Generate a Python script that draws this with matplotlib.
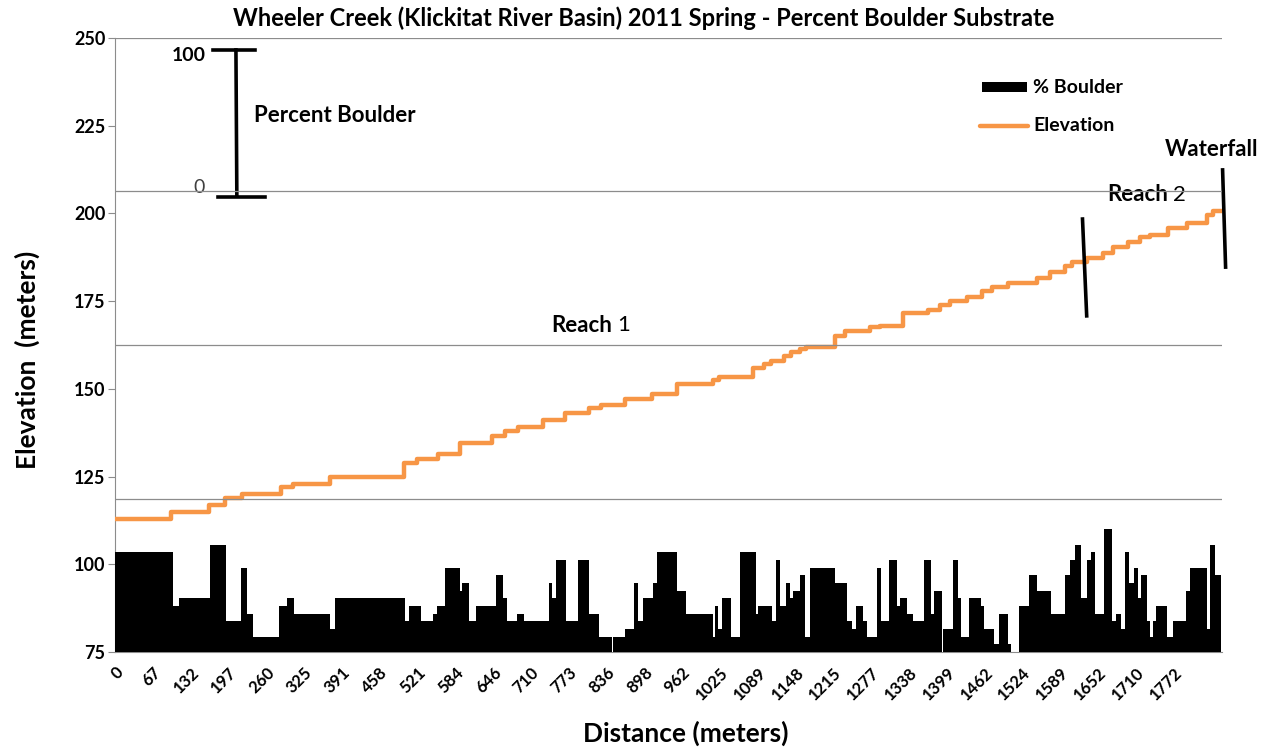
import numpy as np
import matplotlib
matplotlib.use("Agg")
import matplotlib.pyplot as plt
from matplotlib.transforms import offset_copy

plt.rcParams['font.family'] = ['Lato', 'DejaVu Sans']

# ---------------- data ----------------
tick_labels = ["0", "67", "132", "197", "260", "325", "391", "458", "521", "584",
               "646", "710", "773", "836", "898", "962", "1025", "1089", "1148",
               "1215", "1277", "1338", "1399", "1462", "1524", "1589", "1652",
               "1710", "1772"]

# % boulder: start distance of each step and the percent value
boulder_start = [0, 97, 107, 159, 185, 210, 220, 230, 274, 287, 299, 359, 367,
                 484, 491, 511, 531, 538, 551, 576, 580, 591, 603, 636, 648, 655,
                 671, 683, 725, 730, 736, 753, 773, 792, 808, 830, 832, 852, 867,
                 873, 882, 898, 905, 939, 954, 999, 1002, 1007, 1014, 1029, 1044,
                 1070, 1074, 1097, 1104, 1111, 1121, 1127, 1132, 1144, 1152, 1161,
                 1202, 1222, 1231, 1237, 1249, 1256, 1273, 1279, 1293, 1306, 1311,
                 1323, 1333, 1351, 1363, 1368, 1381, 1383, 1399, 1408, 1413, 1426,
                 1446, 1451, 1468, 1476, 1491, 1496, 1510, 1526, 1540, 1563, 1587,
                 1595, 1603, 1613, 1623, 1630, 1637, 1652, 1665, 1672, 1680, 1687,
                 1693, 1702, 1708, 1713, 1723, 1728, 1733, 1738, 1757, 1767, 1789,
                 1795, 1824, 1829, 1837]
boulder_pct = [65, 30, 35, 70, 20, 55, 25, 10, 30, 35, 25, 15, 35,
               20, 30, 20, 25, 30, 55, 40, 45, 20, 30, 50, 35, 20,
               25, 20, 45, 35, 60, 20, 60, 25, 10, 0, 10, 15, 45,
               20, 35, 45, 65, 40, 25, 10, 30, 15, 35, 10, 65,
               25, 30, 20, 60, 30, 45, 35, 40, 50, 10, 55,
               45, 20, 15, 30, 20, 10, 55, 20, 60, 30, 35,
               25, 20, 60, 25, 40, 0, 15, 60, 35, 10, 35,
               30, 15, 5, 25, 5, 0, 30, 50, 40, 25, 50,
               60, 70, 35, 60, 65, 25, 80, 20, 25, 15, 65,
               45, 55, 35, 50, 20, 10, 20, 30, 10, 20, 40,
               55, 15, 70, 50]
boulder_end = 1847

# elevation: start distance of each step and elevation (m)
elev_start = [0, 94, 157, 184, 212, 277, 297, 359, 483, 504, 539, 576, 630, 651,
              673, 715, 752, 792, 812, 852, 897, 939, 999, 1009, 1065, 1084, 1096,
              1117, 1129, 1144, 1154, 1202, 1219, 1261, 1278, 1316, 1358, 1378,
              1394, 1423, 1448, 1465, 1491, 1540, 1561, 1587, 1598, 1623, 1650,
              1667, 1692, 1712, 1728, 1758, 1790, 1824, 1834]
elev_m = [113, 115, 117, 119, 120, 122, 123, 125, 129, 130, 131.5, 134.5, 136.5,
          138, 139, 141, 143, 144.5, 145.5, 147, 148.5, 151.5, 152.5, 153.5, 156,
          157, 158, 159.5, 160.5, 161.5, 162, 165, 166.5, 167.5, 168, 171.5, 172.5,
          174, 175, 176.3, 178, 179, 180.3, 181.5, 183.4, 185, 186.2, 187.2, 188.6,
          190.5, 191.9, 193.2, 193.9, 195.8, 197.4, 199.6, 200.8]
elev_end = 1845

series_names = ["% Boulder", "Elevation"]

ORANGE = "#F79646"
GRID = "#8c8c8c"
ANN = 16

# ---------------- figure ----------------
fig = plt.figure(figsize=(12.69, 7.51), dpi=100)
ax = fig.add_axes([115/1269, 1-652/751, 1107/1269, 614/751])
ax.set_xlim(0, 1849)
ax.set_ylim(75, 250)

ax2 = ax.twinx()
ax2.set_ylim(0, 400)
ax2.set_yticks([100, 200, 300, 400])
ax2.yaxis.grid(True, color=GRID, lw=0.9)
ax2.tick_params(axis='y', length=0, labelright=False)
for s in ax2.spines.values():
    s.set_visible(False)

bx = boulder_start + [boulder_end]
by = boulder_pct + [boulder_pct[-1]]
ax2.fill_between(bx, 0, by, step='post', color='black', lw=0, zorder=3)

ex = elev_start + [elev_end]
ey = elev_m + [elev_m[-1]]
ax.step(ex, ey, where='post', color=ORANGE, lw=3.2, zorder=4)

# axes styling
for side in ['top', 'right']:
    ax.spines[side].set_visible(False)
ax.spines['left'].set_color(GRID)
ax.spines['bottom'].set_color(GRID)
ax.set_yticks(np.arange(75, 251, 25))
ax.tick_params(axis='y', length=5, color=GRID, labelsize=13, pad=2)
for t in ax.get_yticklabels():
    t.set_fontweight('bold')

tick_pos = np.linspace(0, 1768, len(tick_labels))
ax.set_xticks(tick_pos)
ax.set_xticklabels(tick_labels, rotation=45, ha='right', rotation_mode='anchor',
                   fontweight='bold', fontsize=12)
ax.tick_params(axis='x', length=0, pad=9)

ax.set_xlabel("Distance (meters)", fontsize=19, fontweight='bold')
ax.xaxis.label.set_va('center')
ax.xaxis.set_label_coords(0.516, -0.132)
ax.set_ylabel("Elevation  (meters)", fontsize=19, fontweight='bold')
ax.yaxis.label.set_va('center')
ax.yaxis.set_label_coords(-0.0795, 0.4756)
fig.text(0.507, 1-18/751, "Wheeler Creek (Klickitat River Basin) 2011 Spring - Percent Boulder Substrate",
         ha='center', va='center', fontsize=17, fontweight='bold')

# ---------------- annotations ----------------
# scale bar for percent boulder
ax.plot([202, 203.5], [246.6, 205.3], color='black', lw=2.6, clip_on=False, zorder=5)
ax.plot([164, 234], [246.6, 246.6], color='black', lw=2.6, clip_on=False, zorder=5)
ax.plot([172, 250], [204.7, 204.7], color='black', lw=2.6, clip_on=False, zorder=5)
ax.text(151, 244.9, "100", ha='right', va='center', fontsize=14, fontweight='bold')
ax.text(140, 207.5, "0", ha='center', va='center', fontsize=14, color='#404040')
ax.text(232, 228, "Percent Boulder", ha='left', va='center', fontsize=ANN, fontweight='bold')

# reach markers
ax.plot([1616, 1623], [198.4, 170.8], color='black', lw=2.6, clip_on=False, zorder=5)
ax.plot([1850, 1855], [212.4, 184.7], color='black', lw=2.6, clip_on=False, zorder=5)
ax.text(1832, 218.1, "Waterfall", ha='center', va='center', fontsize=ANN, fontweight='bold')

fig.canvas.draw()
renderer = fig.canvas.get_renderer()
for xm, ym, num in [(728, 168.2, "1"), (1657, 205.3, "2")]:
    t = ax.text(xm, ym, "Reach", ha='left', va='center', fontsize=ANN, fontweight='bold')
    bb = t.get_window_extent(renderer)
    tr = offset_copy(ax.transData, fig=fig, x=(bb.width + 5) * 72 / fig.dpi, y=0, units='points')
    ax.text(xm, ym, num, ha='left', va='center', fontsize=ANN, transform=tr)

# legend (drawn manually in axes fraction)
ax.plot([0.783, 0.824], [0.920, 0.920], transform=ax.transAxes, color='black',
        lw=7.2, solid_capstyle='butt', clip_on=False)
ax.plot([0.7814, 0.8248], [0.8567, 0.8567], transform=ax.transAxes, color=ORANGE,
        lw=3.2, solid_capstyle='round', clip_on=False)
ax.text(0.8293, 0.920, series_names[0], transform=ax.transAxes, ha='left', va='center',
        fontsize=14, fontweight='bold')
ax.text(0.8293, 0.8567, series_names[1], transform=ax.transAxes, ha='left', va='center',
        fontsize=14, fontweight='bold')

fig.savefig("out.png", dpi=100)
